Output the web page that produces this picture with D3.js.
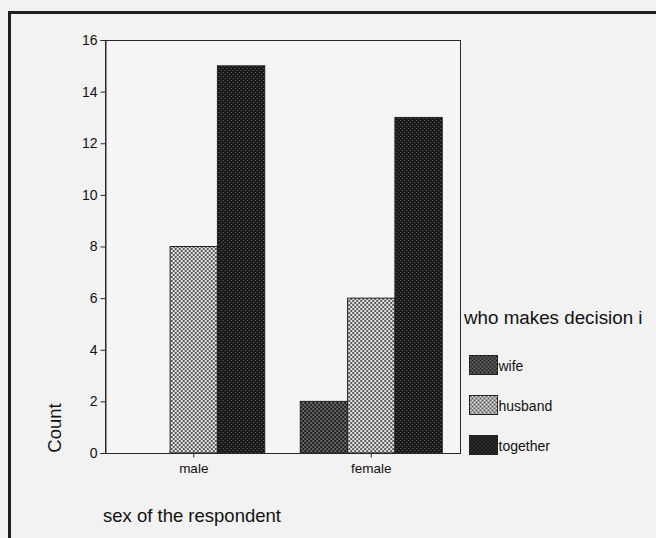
<!DOCTYPE html>
<html>
<head>
<meta charset="utf-8">
<script src="https://cdn.jsdelivr.net/npm/d3@7"></script>
<style>
  body { margin: 0; background: #f2f2f2; }
  svg { display: block; font-family: "Liberation Sans", Arial, sans-serif; }
</style>
</head>
<body>
<div id="chart"></div>
<script>
const categories = ["male", "female"];
const seriesNames = ["wife", "husband", "together"];
const wife = [0, 2];
const husband = [8, 6];
const together = [15, 13];
const yTicks = [0, 2, 4, 6, 8, 10, 12, 14, 16];

(function bars() {
  let width = 656, height = 538,
    margin = ({ top: 40, right: 196, bottom: 85, left: 105 });

  const svg = d3.select("#chart")
    .append("svg")
    .attr("width", width)
    .attr("height", height);

  svg.append("rect").attr("width", width).attr("height", height).attr("fill", "#f2f2f2");

  // fill patterns like the old SPSS print
  const defs = svg.append("defs");
  const pat = (id, bg, fg, cells) => {
    const p = defs.append("pattern").attr("id", id)
      .attr("patternUnits", "userSpaceOnUse").attr("width", 4).attr("height", 4);
    p.append("rect").attr("width", 4).attr("height", 4).attr("fill", bg);
    cells.forEach(c => p.append("rect").attr("x", c[0]).attr("y", c[1])
      .attr("width", c[2]).attr("height", c[2]).attr("fill", fg));
  };
  pat("p-wife", "#1f1f1f", "#686868", [[0, 0, 2], [2, 2, 2]]);
  pat("p-husband", "#e2e2e2", "#5c5c5c", [[0, 0, 2], [2, 2, 2]]);
  pat("p-together", "#191919", "#6a6a6a", [[0, 0, 1], [2, 2, 1]]);

  // outer frame, cut off at right and bottom
  svg.append("rect")
    .attr("x", 9.5).attr("y", 12.5).attr("width", 720).attr("height", 600)
    .attr("fill", "none").attr("stroke", "#1e1e1e").attr("stroke-width", 3);

  const data = categories.map((c, i) => ({ cat: c, wife: wife[i], husband: husband[i], together: together[i] }));

  let x0 = d3.scaleBand(categories, [margin.left, width - margin.right])
    .paddingInner(0.2).paddingOuter(0.1);
  let x1 = d3.scaleBand(seriesNames, [0, x0.bandwidth()]);
  let y = d3.scaleLinear([0, 16], [height - margin.bottom, margin.top]);

  const fill = d3.scaleOrdinal(seriesNames, ["url(#p-wife)", "url(#p-husband)", "url(#p-together)"]);

  // plot box
  svg.append("rect")
    .attr("x", margin.left + 0.5).attr("y", margin.top + 0.5)
    .attr("width", width - margin.left - margin.right)
    .attr("height", height - margin.top - margin.bottom)
    .attr("fill", "#f5f5f5").attr("stroke", "#2a2a2a");

  svg.append("g")
    .selectAll("g")
    .data(data)
    .join("g")
    .attr("transform", d => `translate(${x0(d.cat)},0)`)
    .selectAll("rect")
    .data(d => seriesNames.map(k => ({ key: k, value: d[k] })))
    .join("rect")
    .attr("x", d => x1(d.key))
    .attr("y", d => y(d.value))
    .attr("width", x1.bandwidth())
    .attr("height", d => y(0) - y(d.value))
    .attr("fill", d => fill(d.key))
    .attr("stroke", d => d.value > 0 ? "#222" : "none")
    .attr("stroke-width", 1);

  svg.append("g")
    .attr("transform", `translate(${margin.left + 0.5},0)`)
    .call(d3.axisLeft(y).tickValues(yTicks).tickSize(5).tickPadding(3))
    .call(g => g.select(".domain").attr("stroke", "#2a2a2a"))
    .call(g => g.selectAll("line").attr("stroke", "#2a2a2a"))
    .call(g => g.selectAll("text").attr("font-size", 14).attr("fill", "#111")
      .attr("font-family", "'Liberation Sans', Arial, sans-serif"));

  svg.append("g")
    .attr("transform", `translate(0,${height - margin.bottom + 0.5})`)
    .call(d3.axisBottom(x0).tickSize(4).tickPadding(6))
    .call(g => g.select(".domain").remove())
    .call(g => g.selectAll("line").attr("stroke", "#2a2a2a"))
    .call(g => g.selectAll("text").attr("font-size", 13.5).attr("fill", "#111")
      .attr("font-family", "'Liberation Sans', Arial, sans-serif"));

  svg.append("text")
    .attr("transform", "translate(61,428) rotate(-90)")
    .attr("text-anchor", "middle")
    .attr("font-size", 18.5).attr("fill", "#111")
    .text("Count");

  svg.append("text")
    .attr("x", 103).attr("y", 522)
    .attr("font-size", 18.5).attr("fill", "#111")
    .text("sex of the respondent");

  // legend
  svg.append("text")
    .attr("x", 464).attr("y", 324)
    .attr("font-size", 18.8).attr("fill", "#111")
    .text("who makes decision i");

  const leg = svg.append("g")
    .selectAll("g")
    .data(seriesNames)
    .join("g")
    .attr("transform", (d, i) => `translate(469.5,${355.5 + i * 40})`);
  leg.append("rect")
    .attr("width", 28).attr("height", 19)
    .attr("fill", d => fill(d)).attr("stroke", "#222");
  leg.append("text")
    .attr("x", 29).attr("y", 15)
    .attr("font-size", 14).attr("fill", "#111")
    .text(d => d);
})();
</script>
</body>
</html>
